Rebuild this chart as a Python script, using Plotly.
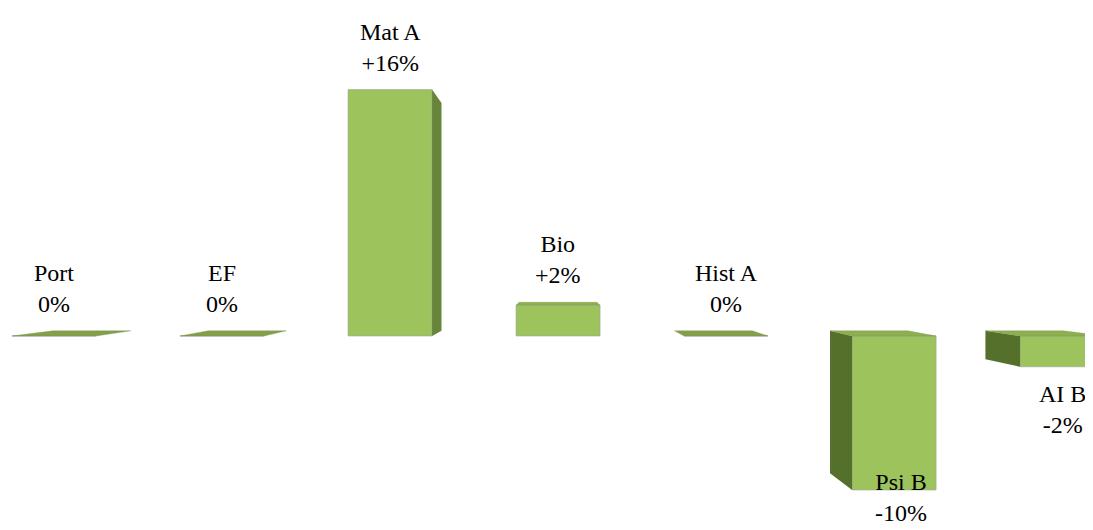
# -*- coding: utf-8 -*-
import plotly.graph_objects as go

# data
names = ['Port', 'EF', 'Mat A', 'Bio', 'Hist A', 'Psi B', 'AI B']
values = [0, 0, 16, 2, 0, -10, -2]
labels = ['0%', '0%', '+16%', '+2%', '0%', '-10%', '-2%']

# fake 3d look: back face pulled toward a vanishing point
half_w = 0.25
k = 0.075
vx, vy = 3.0, 4.5
y_min, y_max = -12.6, 21.3

front_col = '#9dc35c'
side_col = '#55702b'
top_col = '#849f4a'


def back(x, y):
    return x + k * (vx - x), y + k * (vy - y)


fig = go.Figure()
fig.add_trace(go.Bar(x=list(range(len(names))), y=values, width=half_w * 2,
                     marker=dict(color=front_col, line=dict(color='rgba(160,160,160,0.6)', width=1)),
                     hoverinfo='skip', showlegend=False))

for i, v in enumerate(values):
    top, bot = max(v, 0), min(v, 0)
    # side face
    if i != vx:
        ex = i + half_w if i < vx else i - half_w
        b1, b2 = back(ex, top), back(ex, bot)
        fig.add_trace(go.Scatter(x=[ex, ex, b1[0], b2[0], ex], y=[bot, top, b1[1], b2[1], bot],
                                 fill='toself', fillcolor=side_col if v <= 0 else '#66843a', mode='lines',
                                 line=dict(width=0), hoverinfo='skip', showlegend=False))
    # top face
    if top < vy:
        l, r = back(i - half_w, top), back(i + half_w, top)
        fig.add_trace(go.Scatter(x=[i - half_w, i + half_w, r[0], l[0], i - half_w],
                                 y=[top, top, r[1], l[1], top],
                                 fill='toself', fillcolor=top_col if v == 0 else '#8db04f', mode='lines',
                                 line=dict(width=0.5, color='rgba(120,140,80,0.7)'),
                                 hoverinfo='skip', showlegend=False))

    # data labels
    txt = f'{names[i]}<br>{labels[i]}'
    if v >= 0:
        ytop = back(i, top)[1] if top < vy else top
        fig.add_annotation(x=i, y=ytop, text=txt, showarrow=False, yanchor='bottom', yshift=12)
    else:
        lab_h = 60 / 15.4
        if v - 1 - lab_h < y_min:
            # no room under the bar: push the label up to the bottom edge
            fig.add_annotation(x=i + 0.04, y=y_min, text=txt, showarrow=False, yanchor='bottom', yshift=2)
        else:
            fig.add_annotation(x=i, y=v, text=txt, showarrow=False, yanchor='top', yshift=-12)

fig.update_layout(width=1085, height=522, margin=dict(l=0, r=0, t=0, b=0),
                  paper_bgcolor='white', plot_bgcolor='white',
                  font=dict(family='Liberation Serif', size=24, color='black'),
                  xaxis=dict(range=[-0.274, 6.184], visible=False),
                  yaxis=dict(range=[y_min, y_max], visible=False))
fig.write_html('out.html')
